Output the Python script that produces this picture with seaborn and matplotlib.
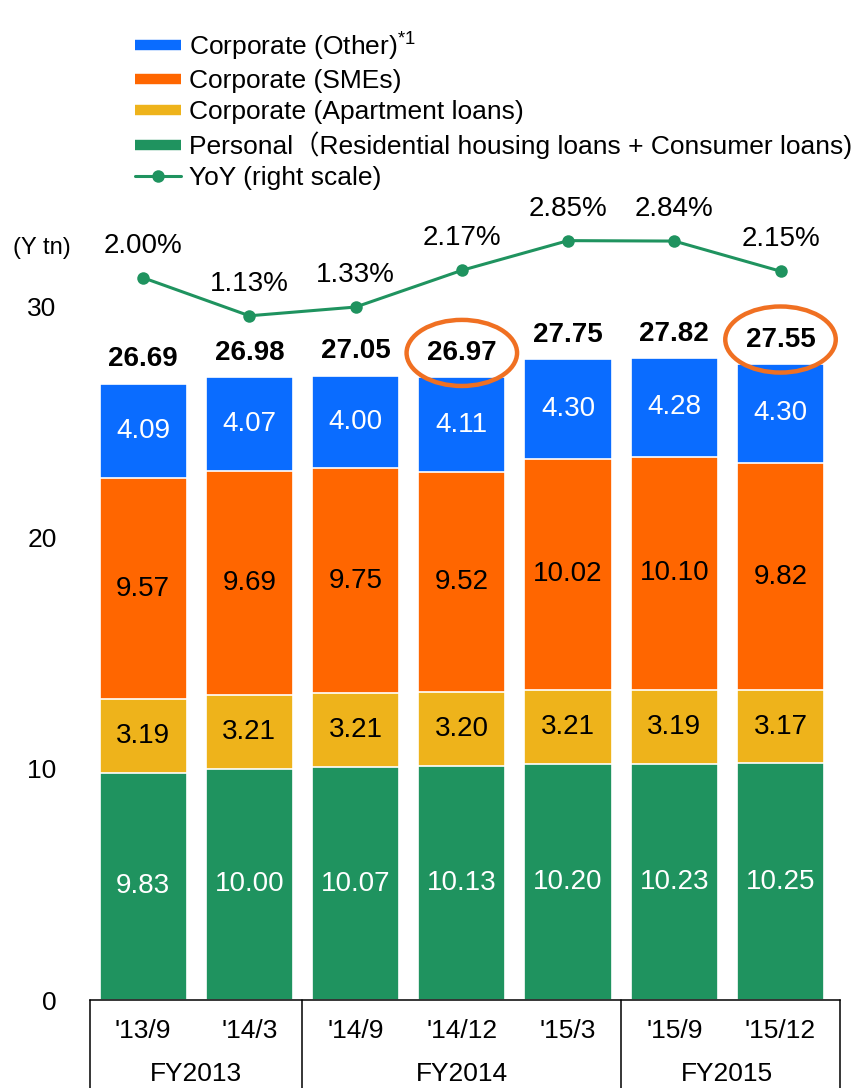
import numpy as np
import matplotlib
matplotlib.use("Agg")
import matplotlib.pyplot as plt
import matplotlib.transforms as mtransforms
from matplotlib.lines import Line2D
from matplotlib.patches import Ellipse
import seaborn as sns

# data (Y tn, YoY in %)
periods = ["'13/9", "'14/3", "'14/9", "'14/12", "'15/3", "'15/9", "'15/12"]
fiscal_years = ["FY2013", "FY2014", "FY2015"]
fy_centers = [0.5, 3, 5.5]
fy_dividers = [-0.5, 1.5, 4.5, 6.56]
personal = [9.83, 10.00, 10.07, 10.13, 10.20, 10.23, 10.25]
apartment = [3.19, 3.21, 3.21, 3.20, 3.21, 3.19, 3.17]
smes = [9.57, 9.69, 9.75, 9.52, 10.02, 10.10, 9.82]
other = [4.09, 4.07, 4.00, 4.11, 4.30, 4.28, 4.30]
totals = [26.69, 26.98, 27.05, 26.97, 27.75, 27.82, 27.55]
yoy = [2.00, 1.13, 1.33, 2.17, 2.85, 2.84, 2.15]
circled = [3, 6]

c_green = "#1F935F"
c_yellow = "#EEB31B"
c_orange = "#FF6600"
c_blue = "#0A6CFF"
c_ring = "#F07022"

sns.set_theme(style="white")
plt.rcParams['font.family'] = ['Liberation Sans', 'Noto Sans CJK JP', 'DejaVu Sans']
plt.rcParams['text.color'] = 'black'
plt.rcParams['xtick.color'] = 'black'
plt.rcParams['ytick.color'] = 'black'
plt.rcParams['axes.labelcolor'] = 'black'

fig = plt.figure(figsize=(8.61, 10.88), dpi=100)
ax = fig.add_axes([90/861, 88/1088, 750/861, 800/1088])

layers = [personal, apartment, smes, other]
colors = [c_green, c_yellow, c_orange, c_blue]
text_colors = ['white', 'black', 'black', 'white']
cum = np.cumsum(np.array(layers), axis=0)

# stacked bars: draw the cumulative heights from the top layer down
for i in range(3, -1, -1):
    sns.barplot(x=periods, y=cum[i], order=periods, color=colors[i], saturation=1,
                width=0.82, edgecolor='white', linewidth=1.2, errorbar=None, ax=ax)

for i, layer in enumerate(layers):
    bottoms = cum[i] - np.array(layer)
    for j, v in enumerate(layer):
        ax.text(j, bottoms[j] + v / 2, f"{v:.2f}", ha='center', va='center',
                color=text_colors[i], fontsize=20)

for j, t in enumerate(totals):
    ax.text(j, cum[3][j] + 1.05, f"{t:.2f}", ha='center', va='center',
            fontsize=20, fontweight='bold', color='black')

for j in circled:
    ax.add_patch(Ellipse((j, cum[3][j] + 1.05), 1.04, 2.86, fill=False,
                         edgecolor=c_ring, linewidth=3.2, zorder=5))

ax.set_xlim(-0.5, 6.56)
ax.set_ylim(0, 34.63)
ax.set_xticks([])
ax.set_xlabel('')
ax.set_ylabel('')
ax.set_yticks([0, 10, 20, 30])
ax.set_yticklabels(['0', '10', '20', '30'], fontsize=19)
ax.tick_params(axis='y', length=0, pad=24)
for s in ['top', 'right', 'left']:
    ax.spines[s].set_visible(False)
ax.spines['bottom'].set_color('black')
ax.spines['bottom'].set_linewidth(1.1)

# category table under the bars
trans = mtransforms.blended_transform_factory(ax.transData, ax.transAxes)
for j, p in enumerate(periods):
    ax.text(j, -0.039, p, transform=trans, ha='center', va='center', fontsize=19)
for x, fy in zip(fy_centers, fiscal_years):
    ax.text(x, -0.093, fy, transform=trans, ha='center', va='center', fontsize=19)
for x in fy_dividers:
    ax.plot([x, x], [0, -0.12], transform=trans, color='black', lw=1.1, clip_on=False)

# YoY line on hidden right scale
ax2 = ax.twinx()
sns.lineplot(x=np.arange(len(yoy)), y=yoy, ax=ax2, color=c_green, marker='o',
             markersize=9, markeredgewidth=0, linewidth=2.2)
ax2.set_ylim(-14.53, 3.78)
ax2.set_yticks([])
ax2.set_ylabel('')
for s in ax2.spines.values():
    s.set_visible(False)
for j, v in enumerate(yoy):
    ax2.annotate(f"{v:.2f}%", (j, v), xytext=(0, 23), textcoords='offset points',
                 ha='center', va='center', fontsize=20)

fig.text(42/861, 1 - 248/1088, "(Y tn)", ha='center', va='center', fontsize=17)

handles = [
    Line2D([0], [0], color=c_blue, lw=7.5, solid_capstyle='butt'),
    Line2D([0], [0], color=c_orange, lw=7.5, solid_capstyle='butt'),
    Line2D([0], [0], color=c_yellow, lw=7.5, solid_capstyle='butt'),
    Line2D([0], [0], color=c_green, lw=7.5, solid_capstyle='butt'),
    Line2D([0], [0], color=c_green, lw=2.2, marker='o', markersize=9, markeredgewidth=0),
]
labels = [
    "Corporate (Other)$^{\\mathregular{*1}}$",
    "Corporate (SMEs)",
    "Corporate (Apartment loans)",
    "Personal（Residential housing loans + Consumer loans)",
    "YoY (right scale)",
]
fig.legend(handles, labels, loc='upper left', bbox_to_anchor=(135/861, 1 - 29/1088),
           frameon=False, fontsize=19, handlelength=1.75, handletextpad=0.3,
           labelspacing=0.27, borderpad=0, borderaxespad=0)

fig.savefig('out.png', dpi=100)
